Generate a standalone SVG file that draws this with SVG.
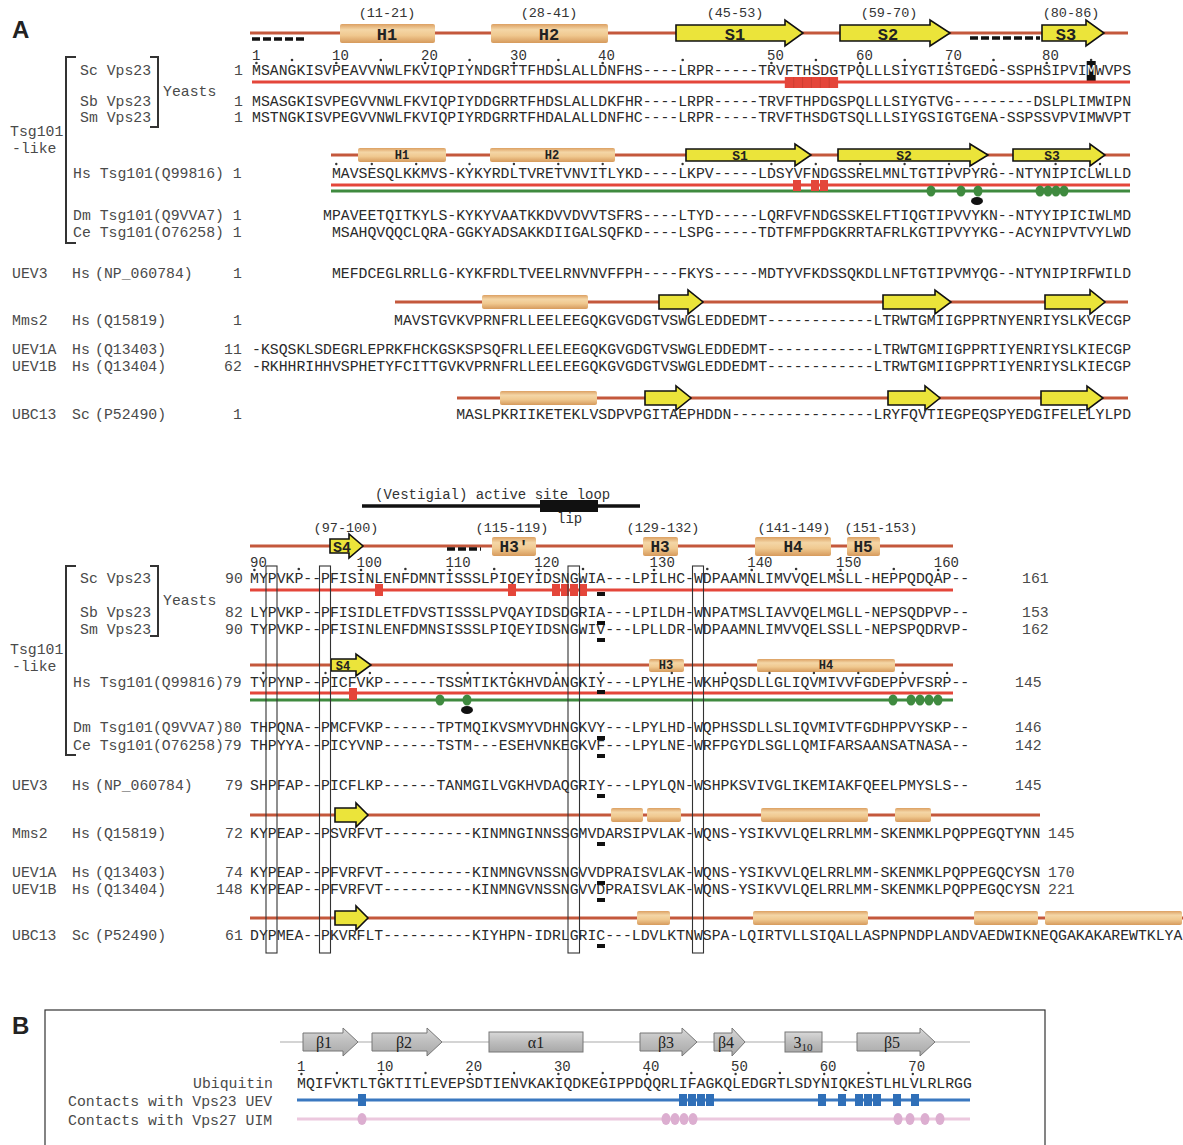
<svg xmlns="http://www.w3.org/2000/svg" width="1183" height="1145" viewBox="0 0 1183 1145">
<defs>
<linearGradient id="cyl" x1="0" y1="0" x2="0" y2="1">
<stop offset="0" stop-color="#dca062"/><stop offset="0.3" stop-color="#f4d6a6"/><stop offset="0.6" stop-color="#f0c990"/><stop offset="1" stop-color="#d69a5c"/>
</linearGradient>
<linearGradient id="gry" x1="0" y1="0" x2="0" y2="1">
<stop offset="0" stop-color="#d8d8d8"/><stop offset="0.5" stop-color="#bdbdbd"/><stop offset="1" stop-color="#a8a8a8"/>
</linearGradient>
<style>
text{font-family:"Liberation Mono","Courier New",monospace;}
.seq{font-size:14.8px;fill:#2a2a2a;}
.lab{font-size:14.8px;fill:#4a4a4a;}
.num{font-size:14px;fill:#333;}
.ssl{font-size:13.5px;fill:#333;text-anchor:middle;}
.ht{font-weight:bold;fill:#222;text-anchor:middle;}
.big{font-family:"Liberation Sans",Arial,sans-serif;font-weight:bold;font-size:24px;fill:#222;}
.track{stroke:#c4583c;stroke-width:3;fill:none;}
.redl{stroke:#e4463a;stroke-width:3;fill:none;}
.grnl{stroke:#3f8a3f;stroke-width:3;fill:none;}
.cyl{fill:url(#cyl);}
.arr{fill:#ebe43a;stroke:#111;stroke-width:1.6;}
.sq{fill:#e4463a;}
.gd{fill:#3f8a3f;}
.bk{fill:#111;}
.dash{stroke:#111;stroke-width:3.5;stroke-dasharray:8 3;fill:none;}
.brk{stroke:#333;stroke-width:2;fill:none;}
.vbox{fill:none;stroke:#333;stroke-width:1.1;}
.tick{fill:#333;}
.garr{fill:url(#gry);stroke:#777;stroke-width:1;}
.gl{font-family:"Liberation Serif","Times New Roman",serif;font-size:16px;fill:#222;text-anchor:middle;}
.bl{stroke:#3a78c0;stroke-width:3;fill:none;}
.bsq{fill:#2f6fb8;}
.pl{stroke:#ecc8de;stroke-width:3;fill:none;}
.pd{fill:#dcaed0;}
</style>
</defs>
<rect width="1183" height="1145" fill="#fff"/>
<text class="big" x="12" y="38">A</text>

<!-- ================= BLOCK 1 ================= -->
<g id="block1-ss-sc">
<line class="track" x1="250" y1="33" x2="1128" y2="33"/>
<line class="dash" x1="252" y1="39" x2="307" y2="39"/>
<rect class="cyl" x="340" y="24" width="95" height="19" rx="2"/>
<text class="ht" x="387" y="40" font-size="17">H1</text>
<rect class="cyl" x="491" y="24" width="117" height="19" rx="2"/>
<text class="ht" x="549" y="40" font-size="17">H2</text>
<path class="arr" d="M676,25 H785 V20 L803,33 L785,46 V41 H676 Z"/>
<text class="ht" x="735" y="40" font-size="17">S1</text>
<path class="arr" d="M840,25 H930 V20 L950,33 L930,46 V41 H840 Z"/>
<text class="ht" x="888" y="40" font-size="17">S2</text>
<line class="dash" x1="970" y1="38" x2="1040" y2="38"/>
<path class="arr" d="M1042,25 H1086 V20 L1104,33 L1086,46 V41 H1042 Z"/>
<text class="ht" x="1066" y="40" font-size="17">S3</text>
<text class="ssl" x="387" y="17">(11-21)</text>
<text class="ssl" x="549" y="17">(28-41)</text>
<text class="ssl" x="735" y="17">(45-53)</text>
<text class="ssl" x="889" y="17">(59-70)</text>
<text class="ssl" x="1071" y="17">(80-86)</text>
</g>
<g id="block1-ruler">
<text class="num" x="252" y="60">1</text>
<text class="num" x="332" y="60">10</text>
<text class="num" x="421" y="60">20</text>
<text class="num" x="510" y="60">30</text>
<text class="num" x="598" y="60">40</text>
<text class="num" x="767" y="60">50</text>
<text class="num" x="856" y="60">60</text>
<text class="num" x="945" y="60">70</text>
<text class="num" x="1042" y="60">80</text>
<g class="tick">
<circle cx="256.4" cy="63" r="1.3"/><circle cx="336.3" cy="63" r="1.3"/><circle cx="425.1" cy="63" r="1.3"/><circle cx="513.9" cy="63" r="1.3"/><circle cx="602.7" cy="63" r="1.3"/><circle cx="771.4" cy="63" r="1.3"/><circle cx="860.2" cy="63" r="1.3"/><circle cx="949" cy="63" r="1.3"/><circle cx="1046.7" cy="63" r="1.3"/>
<circle cx="292" cy="60" r="1.3"/><circle cx="380.8" cy="60" r="1.3"/><circle cx="469.6" cy="60" r="1.3"/><circle cx="558.4" cy="60" r="1.3"/><circle cx="682.7" cy="60" r="1.3"/><circle cx="815.9" cy="60" r="1.3"/><circle cx="904.7" cy="60" r="1.3"/><circle cx="993.5" cy="60" r="1.3"/><circle cx="1091.1" cy="60" r="1.3"/>
</g>
</g>
<g id="block1-labels">
<text class="lab" x="10" y="136">Tsg101</text>
<text class="lab" x="12" y="153">-like</text>
<path class="brk" d="M76,57 H66 V243 H76"/>
<path class="brk" d="M150,57 H158 V127 H150"/>
<text class="lab" x="163" y="96">Yeasts</text>
</g>
<g id="block1-yeasts">
<text class="lab" x="80" y="75">Sc Vps23</text><text class="lab" x="234" y="75">1</text>
<rect class="bk" x="1086.7" y="61" width="9" height="20"/>
<text class="seq" x="252" y="75">MSANGKISVPEAVVNWLFKVIQPIYNDGRTTFHDSLALLDNFHS----LRPR-----TRVFTHSDGTPQLLLSIYGTISTGEDG-SSPHSIPVI<tspan fill="#fff">M</tspan>WVPS</text>
<line class="redl" x1="252" y1="82" x2="1130" y2="82"/>
<rect class="sq" x="784.8" y="77" width="53.3" height="11"/>
<g stroke="#c0392b" stroke-width="0.6"><line x1="793.7" y1="77" x2="793.7" y2="88"/><line x1="802.6" y1="77" x2="802.6" y2="88"/><line x1="811.4" y1="77" x2="811.4" y2="88"/><line x1="820.3" y1="77" x2="820.3" y2="88"/><line x1="829.2" y1="77" x2="829.2" y2="88"/></g>
<text class="lab" x="80" y="106">Sb Vps23</text><text class="lab" x="234" y="106">1</text>
<text class="seq" x="252" y="106">MSASGKISVPEGVVNWLFKVIQPIYDDGRRTFHDSLALLDKFHR----LRPR-----TRVFTHPDGSPQLLLSIYGTVG---------DSLPLIMWIPN</text>
<text class="lab" x="80" y="122">Sm Vps23</text><text class="lab" x="234" y="122">1</text>
<text class="seq" x="252" y="122">MSTNGKISVPEGVVNWLFKVIQPIYRDGRRTFHDALALLDNFHC----LRPR-----TRVFTHSDGTSQLLLSIYGSIGTGENA-SSPSSVPVIMWVPT</text>
</g>
<g id="block1-hs-tsg101">
<line class="track" x1="331" y1="155" x2="1130" y2="155"/>
<rect class="cyl" x="358" y="148" width="88" height="14" rx="2"/>
<text class="ht" x="402" y="159" font-size="12">H1</text>
<rect class="cyl" x="490" y="148" width="125" height="14" rx="2"/>
<text class="ht" x="552" y="159" font-size="12">H2</text>
<path class="arr" d="M686,149 H795 V144 L811,155 L795,166 V161 H686 Z"/>
<text class="ht" x="740" y="160" font-size="13">S1</text>
<path class="arr" d="M838,149 H970 V144 L988,155 L970,166 V161 H838 Z"/>
<text class="ht" x="904" y="160" font-size="13">S2</text>
<path class="arr" d="M1013,149 H1090 V144 L1105,155 L1090,166 V161 H1013 Z"/>
<text class="ht" x="1052" y="160" font-size="13">S3</text>
<text class="lab" x="73" y="178">Hs Tsg101(Q99816) 1</text>
<text class="seq" x="331.9" y="178">MAVSESQLKKMVS-KYKYRDLTVRETVNVITLYKD----LKPV-----LDSYVFNDGSSRELMNLTGTIPVPYRG--NTYNIPICLWLLD</text>
<g class="tick">
<circle cx="336.3" cy="164" r="1.2"/><circle cx="371.8" cy="164" r="1.2"/><circle cx="416.2" cy="164" r="1.2"/><circle cx="469.5" cy="164" r="1.2"/><circle cx="513.9" cy="164" r="1.2"/><circle cx="558.3" cy="164" r="1.2"/><circle cx="602.7" cy="164" r="1.2"/><circle cx="682.6" cy="164" r="1.2"/><circle cx="771.4" cy="164" r="1.2"/><circle cx="815.8" cy="164" r="1.2"/><circle cx="860.2" cy="164" r="1.2"/><circle cx="904.6" cy="164" r="1.2"/><circle cx="949" cy="164" r="1.2"/><circle cx="993.4" cy="164" r="1.2"/><circle cx="1055.6" cy="164" r="1.2"/><circle cx="1100" cy="164" r="1.2"/>
</g>
<line class="redl" x1="331" y1="185" x2="1130" y2="185"/>
<line class="grnl" x1="331" y1="191" x2="1130" y2="191"/>
<rect class="sq" x="793" y="180" width="8" height="11"/>
<rect class="sq" x="811" y="180" width="8" height="11"/>
<rect class="sq" x="820" y="180" width="8" height="11"/>
<g class="gd"><ellipse cx="931" cy="191" rx="4.5" ry="5.5"/><ellipse cx="961" cy="191" rx="4.5" ry="5.5"/><ellipse cx="978" cy="191" rx="4.5" ry="5.5"/><ellipse cx="1040" cy="191" rx="4.5" ry="5.5"/><ellipse cx="1048" cy="191" rx="4.5" ry="5.5"/><ellipse cx="1056" cy="191" rx="4.5" ry="5.5"/><ellipse cx="1064" cy="191" rx="4.5" ry="5.5"/></g>
<ellipse class="bk" cx="977" cy="201" rx="6" ry="4"/>
</g>
<g id="block1-dm-ce">
<text class="lab" x="73" y="220">Dm Tsg101(Q9VVA7) 1</text>
<text class="seq" x="323" y="220">MPAVEETQITKYLS-KYKYVAATKKDVVDVVTSFRS----LTYD-----LQRFVFNDGSSKELFTIQGTIPVVYKN--NTYYIPICIWLMD</text>
<text class="lab" x="73" y="237">Ce Tsg101(O76258) 1</text>
<text class="seq" x="331.9" y="237">MSAHQVQQCLQRA-GGKYADSAKKDIIGALSQFKD----LSPG-----TDTFMFPDGKRRTAFRLKGTIPVYYKG--ACYNIPVTVYLWD</text>
</g>
<g id="block1-uev3">
<text class="lab" x="12" y="278">UEV3</text><text class="lab" x="72" y="278">Hs</text><text class="lab" x="95" y="278">(NP_060784)</text><text class="lab" x="233" y="278">1</text>
<text class="seq" x="331.9" y="278">MEFDCEGLRRLLG-KYKFRDLTVEELRNVNVFFPH----FKYS-----MDTYVFKDSSQKDLLNFTGTIPVMYQG--NTYNIPIRFWILD</text>
</g>
<g id="block1-mms2">
<line class="track" x1="395" y1="302" x2="1128" y2="302"/>
<rect class="cyl" x="482" y="295" width="106" height="14" rx="2"/>
<path class="arr" d="M659,295 H688 V290 L703,302 L688,314 V309 H659 Z"/>
<path class="arr" d="M883,295 H935 V290 L951,302 L935,314 V309 H883 Z"/>
<path class="arr" d="M1045,295 H1090 V290 L1105,302 L1090,314 V309 H1045 Z"/>
<text class="lab" x="12" y="325">Mms2</text><text class="lab" x="72" y="325">Hs</text><text class="lab" x="95" y="325">(Q15819)</text><text class="lab" x="233" y="325">1</text>
<text class="seq" x="394.1" y="325">MAVSTGVKVPRNFRLLEELEEGQKGVGDGTVSWGLEDDEDMT------------LTRWTGMIIGPPRTNYENRIYSLKVECGP</text>
</g>
<g id="block1-uev1">
<text class="lab" x="12" y="354">UEV1A</text><text class="lab" x="72" y="354">Hs</text><text class="lab" x="95" y="354">(Q13403)</text><text class="lab" x="224" y="354">11</text>
<text class="seq" x="252" y="354">-KSQSKLSDEGRLEPRKFHCKGSKSPSQFRLLEELEEGQKGVGDGTVSWGLEDDEDMT------------LTRWTGMIIGPPRTIYENRIYSLKIECGP</text>
<text class="lab" x="12" y="371">UEV1B</text><text class="lab" x="72" y="371">Hs</text><text class="lab" x="95" y="371">(Q13404)</text><text class="lab" x="224" y="371">62</text>
<text class="seq" x="252" y="371">-RKHHRIHHVSPHETYFCITTGVKVPRNFRLLEELEEGQKGVGDGTVSWGLEDDEDMT------------LTRWTGMIIGPPRTIYENRIYSLKIECGP</text>
</g>
<g id="block1-ubc13">
<line class="track" x1="457" y1="398" x2="1128" y2="398"/>
<rect class="cyl" x="500" y="391" width="97" height="14" rx="2"/>
<path class="arr" d="M645,391 H676 V386 L691,398 L676,410 V405 H645 Z"/>
<path class="arr" d="M888,391 H925 V386 L940,398 L925,410 V405 H888 Z"/>
<path class="arr" d="M1041,391 H1087 V386 L1103,398 L1087,410 V405 H1041 Z"/>
<text class="lab" x="12" y="419">UBC13</text><text class="lab" x="72" y="419">Sc</text><text class="lab" x="95" y="419">(P52490)</text><text class="lab" x="233" y="419">1</text>
<text class="seq" x="456.2" y="419">MASLPKRIIKETEKLVSDPVPGITAEPHDDN----------------LRYFQVTIEGPEQSPYEDGIFELELYLPD</text>
</g>

<!-- ================= BLOCK 2 ================= -->
<g id="block2-loop">
<text class="num" x="375" y="499">(Vestigial) active site loop</text>
<line x1="362" y1="506" x2="640" y2="506" stroke="#111" stroke-width="3.5"/>
<rect class="bk" x="540" y="500" width="58" height="12"/>
<text class="num" x="557" y="523">lip</text>
</g>
<g id="block2-ss-sc">
<text class="ssl" x="346" y="532">(97-100)</text>
<text class="ssl" x="512" y="532">(115-119)</text>
<text class="ssl" x="663" y="532">(129-132)</text>
<text class="ssl" x="794" y="532">(141-149)</text>
<text class="ssl" x="881" y="532">(151-153)</text>
<line class="track" x1="250" y1="546" x2="953" y2="546"/>
<path class="arr" d="M330,539 H349 V534 L363,546 L349,558 V553 H330 Z" stroke-width="2.6"/>
<text class="ht" x="342" y="552" font-size="15">S4</text>
<line class="dash" x1="447" y1="549" x2="481" y2="549"/>
<rect class="cyl" x="492" y="537" width="44" height="19" rx="2"/>
<text class="ht" x="514" y="552" font-size="16">H3'</text>
<rect class="cyl" x="643" y="537" width="35" height="19" rx="2"/>
<text class="ht" x="660" y="552" font-size="16">H3</text>
<rect class="cyl" x="755" y="537" width="76" height="19" rx="2"/>
<text class="ht" x="793" y="552" font-size="16">H4</text>
<rect class="cyl" x="847" y="537" width="33" height="19" rx="2"/>
<text class="ht" x="863" y="552" font-size="16">H5</text>
</g>
<g id="block2-ruler">
<text class="num" x="250" y="567">90</text>
<text class="num" x="356.6" y="567">100</text>
<text class="num" x="445.4" y="567">110</text>
<text class="num" x="534.2" y="567">120</text>
<text class="num" x="649.6" y="567">130</text>
<text class="num" x="747.3" y="567">140</text>
<text class="num" x="836.1" y="567">150</text>
<text class="num" x="933.8" y="567">160</text>
<g class="tick">
<circle cx="254.4" cy="570" r="1.3"/><circle cx="361" cy="570" r="1.3"/><circle cx="449.8" cy="570" r="1.3"/><circle cx="538.6" cy="570" r="1.3"/><circle cx="654" cy="570" r="1.3"/><circle cx="751.7" cy="570" r="1.3"/><circle cx="840.5" cy="570" r="1.3"/><circle cx="938.2" cy="570" r="1.3"/>
<circle cx="298.8" cy="569" r="1.3"/><circle cx="405.4" cy="569" r="1.3"/><circle cx="494.2" cy="569" r="1.3"/><circle cx="583" cy="569" r="1.3"/><circle cx="707.3" cy="569" r="1.3"/><circle cx="796.1" cy="569" r="1.3"/><circle cx="893.8" cy="569" r="1.3"/>
</g>
</g>
<g id="block2-labels">
<text class="lab" x="10" y="654">Tsg101</text>
<text class="lab" x="12" y="671">-like</text>
<path class="brk" d="M76,566 H66 V755 H76"/>
<path class="brk" d="M150,566 H158 V636 H150"/>
<text class="lab" x="163" y="605">Yeasts</text>
</g>
<g id="block2-yeasts">
<text class="lab" x="80" y="583">Sc Vps23</text><text class="lab" x="225" y="583">90</text>
<text class="seq" x="250" y="583">MYPVKP--PFISINLENFDMNTISSSLPIQEYIDSNGWIA---LPILHC-WDPAAMNLIMVVQELMSLL-HEPPQDQAP--</text>
<text class="lab" x="1022" y="583">161</text>
<line class="redl" x1="250" y1="590" x2="953" y2="590"/>
<rect class="sq" x="375" y="584" width="8" height="12"/>
<rect class="sq" x="508" y="584" width="8" height="12"/>
<rect class="sq" x="552" y="584" width="8" height="12"/>
<rect class="sq" x="561" y="584" width="8" height="12"/>
<rect class="sq" x="570" y="584" width="8" height="12"/>
<rect class="sq" x="579" y="584" width="8" height="12"/>
<text class="lab" x="80" y="617">Sb Vps23</text><text class="lab" x="225" y="617">82</text>
<text class="seq" x="250" y="617">LYPVKP--PFISIDLETFDVSTISSSLPVQAYIDSDGRIA---LPILDH-WNPATMSLIAVVQELMGLL-NEPSQDPVP--</text>
<text class="lab" x="1022" y="617">153</text>
<text class="lab" x="80" y="634">Sm Vps23</text><text class="lab" x="225" y="634">90</text>
<text class="seq" x="250" y="634">TYPVKP--PFISINLENFDMNSISSSLPIQEYIDSNGWIV---LPLLDR-WDPAAMNLIMVVQELSSLL-NEPSPQDRVP-</text>
<text class="lab" x="1022" y="634">162</text>
</g>
<g id="block2-hs-tsg101">
<line class="track" x1="250" y1="665" x2="953" y2="665"/>
<path class="arr" d="M331,659 H356 V654 L371,665 L356,676 V671 H331 Z"/>
<text class="ht" x="343" y="670" font-size="12">S4</text>
<rect class="cyl" x="649" y="659" width="35" height="13" rx="2"/>
<text class="ht" x="666" y="669" font-size="12">H3</text>
<rect class="cyl" x="757" y="659" width="138" height="13" rx="2"/>
<text class="ht" x="826" y="669" font-size="12">H4</text>
<text class="lab" x="73" y="687">Hs Tsg101(Q99816)79</text>
<text class="seq" x="250" y="687">TYPYNP--PICFVKP------TSSMTIKTGKHVDANGKIY---LPYLHE-WKHPQSDLLGLIQVMIVVFGDEPPVFSRP--</text>
<text class="lab" x="1015" y="687">145</text>
<g class="tick">
<circle cx="263.3" cy="673" r="1.2"/><circle cx="325.5" cy="673" r="1.2"/><circle cx="369.9" cy="673" r="1.2"/><circle cx="467.6" cy="673" r="1.2"/><circle cx="512" cy="673" r="1.2"/><circle cx="556.4" cy="673" r="1.2"/><circle cx="600.8" cy="673" r="1.2"/><circle cx="671.8" cy="673" r="1.2"/><circle cx="725.1" cy="673" r="1.2"/><circle cx="769.5" cy="673" r="1.2"/><circle cx="813.9" cy="673" r="1.2"/><circle cx="858.3" cy="673" r="1.2"/><circle cx="902.7" cy="673" r="1.2"/><circle cx="947.1" cy="673" r="1.2"/>
</g>
<line class="redl" x1="250" y1="693" x2="953" y2="693"/>
<line class="grnl" x1="250" y1="700" x2="953" y2="700"/>
<rect class="sq" x="349" y="688" width="8" height="12"/>
<g class="gd"><ellipse cx="440" cy="700" rx="4.5" ry="5.5"/><ellipse cx="467" cy="700" rx="4.5" ry="5.5"/><ellipse cx="893" cy="700" rx="4.5" ry="5.5"/><ellipse cx="911" cy="700" rx="4.5" ry="5.5"/><ellipse cx="920" cy="700" rx="4.5" ry="5.5"/><ellipse cx="929" cy="700" rx="4.5" ry="5.5"/><ellipse cx="938" cy="700" rx="4.5" ry="5.5"/></g>
<ellipse class="bk" cx="467" cy="710" rx="6" ry="4"/>
</g>
<g id="block2-dm-ce">
<text class="lab" x="73" y="732">Dm Tsg101(Q9VVA7)80</text>
<text class="seq" x="250" y="732">THPQNA--PMCFVKP------TPTMQIKVSMYVDHNGKVY---LPYLHD-WQPHSSDLLSLIQVMIVTFGDHPPVYSKP--</text>
<text class="lab" x="1015" y="732">146</text>
<text class="lab" x="73" y="750">Ce Tsg101(O76258)79</text>
<text class="seq" x="250" y="750">THPYYA--PICYVNP------TSTM---ESEHVNKEGKVF---LPYLNE-WRFPGYDLSGLLQMIFARSAANSATNASA--</text>
<text class="lab" x="1015" y="750">142</text>
</g>
<g id="block2-uev3">
<text class="lab" x="12" y="790">UEV3</text><text class="lab" x="72" y="790">Hs</text><text class="lab" x="95" y="790">(NP_060784)</text><text class="lab" x="225" y="790">79</text>
<text class="seq" x="250" y="790">SHPFAP--PICFLKP------TANMGILVGKHVDAQGRIY---LPYLQN-WSHPKSVIVGLIKEMIAKFQEELPMYSLS--</text>
<text class="lab" x="1015" y="790">145</text>
</g>
<g id="block2-mms2">
<line class="track" x1="250" y1="815" x2="1040" y2="815"/>
<path class="arr" d="M335,808 H356 V803 L368,815 L356,827 V822 H335 Z"/>
<rect class="cyl" x="611" y="808" width="32" height="14" rx="2"/>
<rect class="cyl" x="647" y="808" width="34" height="14" rx="2"/>
<rect class="cyl" x="761" y="808" width="107" height="14" rx="2"/>
<rect class="cyl" x="895" y="808" width="36" height="14" rx="2"/>
<text class="lab" x="12" y="838">Mms2</text><text class="lab" x="72" y="838">Hs</text><text class="lab" x="95" y="838">(Q15819)</text><text class="lab" x="225" y="838">72</text>
<text class="seq" x="250" y="838">KYPEAP--PSVRFVT----------KINMNGINNSSGMVDARSIPVLAK-WQNS-YSIKVVLQELRRLMM-SKENMKLPQPPEGQTYNN</text>
<text class="lab" x="1048" y="838">145</text>
</g>
<g id="block2-uev1">
<text class="lab" x="12" y="877">UEV1A</text><text class="lab" x="72" y="877">Hs</text><text class="lab" x="95" y="877">(Q13403)</text><text class="lab" x="225" y="877">74</text>
<text class="seq" x="250" y="877">KYPEAP--PFVRFVT----------KINMNGVNSSNGVVDPRAISVLAK-WQNS-YSIKVVLQELRRLMM-SKENMKLPQPPEGQCYSN</text>
<text class="lab" x="1048" y="877">170</text>
<text class="lab" x="12" y="894">UEV1B</text><text class="lab" x="72" y="894">Hs</text><text class="lab" x="95" y="894">(Q13404)</text><text class="lab" x="216" y="894">148</text>
<text class="seq" x="250" y="894">KYPEAP--PFVRFVT----------KINMNGVNSSNGVVDPRAISVLAK-WQNS-YSIKVVLQELRRLMM-SKENMKLPQPPEGQCYSN</text>
<text class="lab" x="1048" y="894">221</text>
</g>
<g id="block2-ubc13">
<line class="track" x1="250" y1="918" x2="1183" y2="918"/>
<path class="arr" d="M335,911 H356 V906 L368,918 L356,930 V925 H335 Z"/>
<rect class="cyl" x="637" y="911" width="33" height="14" rx="2"/>
<rect class="cyl" x="753" y="911" width="115" height="14" rx="2"/>
<rect class="cyl" x="974" y="911" width="64" height="14" rx="2"/>
<rect class="cyl" x="1045" y="911" width="137" height="14" rx="2"/>
<text class="lab" x="12" y="940">UBC13</text><text class="lab" x="72" y="940">Sc</text><text class="lab" x="95" y="940">(P52490)</text><text class="lab" x="225" y="940">61</text>
<text class="seq" x="250" y="940">DYPMEA--PKVRFLT----------KIYHPN-IDRLGRIC---LDVLKTNWSPA-LQIRTVLLSIQALLASPNPNDPLANDVAEDWIKNEQGAKAKAREWTKLYA</text>
</g>
<g id="block2-markers" class="bk">
<rect x="597" y="592" width="8" height="4"/><rect x="597" y="621" width="8" height="4"/><rect x="597" y="638" width="8" height="4"/><rect x="597" y="690" width="8" height="4"/><rect x="597" y="736" width="8" height="4"/><rect x="597" y="754" width="8" height="4"/><rect x="597" y="794" width="8" height="4"/><rect x="597" y="842" width="8" height="4"/><rect x="597" y="881" width="8" height="4"/><rect x="597" y="898" width="8" height="4"/><rect x="597" y="944" width="8" height="4"/>
</g>
<g id="block2-boxes">
<rect class="vbox" x="266" y="566" width="11" height="387"/>
<rect class="vbox" x="319.5" y="566" width="11" height="387"/>
<rect class="vbox" x="568" y="566" width="11.5" height="387"/>
<rect class="vbox" x="692.5" y="566" width="11" height="387"/>
</g>

<!-- ================= PANEL B ================= -->
<text class="big" x="12" y="1034">B</text>
<rect x="45" y="1010" width="1000" height="145" fill="none" stroke="#333" stroke-width="1.2"/>
<g id="panelB-ss">
<line x1="280" y1="1042" x2="970" y2="1042" stroke="#d4d4d4" stroke-width="2"/>
<path class="garr" d="M303,1033 H343 V1028 L358,1042 L343,1056 V1051 H303 Z"/>
<text class="gl" x="324" y="1048">β1</text>
<path class="garr" d="M372,1033 H427 V1028 L442,1042 L427,1056 V1051 H372 Z"/>
<text class="gl" x="404" y="1048">β2</text>
<rect class="garr" x="489" y="1032" width="94" height="20"/>
<text class="gl" x="536" y="1048">α1</text>
<path class="garr" d="M640,1033 H682 V1028 L697,1042 L682,1056 V1051 H640 Z"/>
<text class="gl" x="666" y="1048">β3</text>
<path class="garr" d="M714,1033 H732 V1028 L745,1042 L732,1056 V1051 H714 Z"/>
<text class="gl" x="726" y="1048">β4</text>
<rect class="garr" x="785" y="1032" width="37" height="20"/>
<text class="gl" x="803" y="1048">3<tspan font-size="11" dy="3">10</tspan></text>
<path class="garr" d="M857,1033 H920 V1028 L935,1042 L920,1056 V1051 H857 Z"/>
<text class="gl" x="892" y="1048">β5</text>
</g>
<g id="panelB-ruler">
<text class="num" x="297" y="1071">1</text>
<text class="num" x="376.7" y="1071">10</text>
<text class="num" x="465.3" y="1071">20</text>
<text class="num" x="553.9" y="1071">30</text>
<text class="num" x="642.5" y="1071">40</text>
<text class="num" x="731.1" y="1071">50</text>
<text class="num" x="819.7" y="1071">60</text>
<text class="num" x="908.3" y="1071">70</text>
<g class="tick">
<circle cx="301.4" cy="1074" r="1.2"/><circle cx="381.2" cy="1074" r="1.2"/><circle cx="469.8" cy="1074" r="1.2"/><circle cx="558.4" cy="1074" r="1.2"/><circle cx="647" cy="1074" r="1.2"/><circle cx="735.6" cy="1074" r="1.2"/><circle cx="824.2" cy="1074" r="1.2"/><circle cx="912.8" cy="1074" r="1.2"/>
<circle cx="336.9" cy="1073" r="1.2"/><circle cx="425.5" cy="1073" r="1.2"/><circle cx="514.1" cy="1073" r="1.2"/><circle cx="602.7" cy="1073" r="1.2"/><circle cx="691.3" cy="1073" r="1.2"/><circle cx="779.9" cy="1073" r="1.2"/><circle cx="868.5" cy="1073" r="1.2"/>
</g>
</g>
<g id="panelB-ubiquitin">
<text class="lab" x="193" y="1088">Ubiquitin</text>
<text class="seq" x="297" y="1088">MQIFVKTLTGKTITLEVEPSDTIENVKAKIQDKEGIPPDQQRLIFAGKQLEDGRTLSDYNIQKESTLHLVLRLRGG</text>
</g>
<g id="panelB-vps23">
<text class="lab" x="68" y="1106">Contacts with Vps23 UEV</text>
<line class="bl" x1="297" y1="1100" x2="970" y2="1100"/>
<g class="bsq">
<rect x="358" y="1094" width="8" height="12"/>
<rect x="679" y="1094" width="8" height="12"/><rect x="688" y="1094" width="8" height="12"/><rect x="697" y="1094" width="8" height="12"/><rect x="706" y="1094" width="8" height="12"/>
<rect x="818" y="1094" width="8" height="12"/><rect x="838" y="1094" width="8" height="12"/><rect x="855" y="1094" width="8" height="12"/><rect x="864" y="1094" width="8" height="12"/><rect x="873" y="1094" width="8" height="12"/><rect x="893" y="1094" width="8" height="12"/><rect x="911" y="1094" width="8" height="12"/>
</g>
</g>
<g id="panelB-vps27">
<text class="lab" x="68" y="1125">Contacts with Vps27 UIM</text>
<line class="pl" x1="297" y1="1119" x2="970" y2="1119"/>
<g class="pd">
<ellipse cx="362" cy="1119" rx="4.5" ry="6"/>
<ellipse cx="666" cy="1119" rx="4.5" ry="6"/><ellipse cx="675" cy="1119" rx="4.5" ry="6"/><ellipse cx="684" cy="1119" rx="4.5" ry="6"/><ellipse cx="693" cy="1119" rx="4.5" ry="6"/>
<ellipse cx="898" cy="1119" rx="4.5" ry="6"/><ellipse cx="910" cy="1119" rx="4.5" ry="6"/><ellipse cx="925" cy="1119" rx="4.5" ry="6"/><ellipse cx="940" cy="1119" rx="4.5" ry="6"/>
</g>
</g>
</svg>
